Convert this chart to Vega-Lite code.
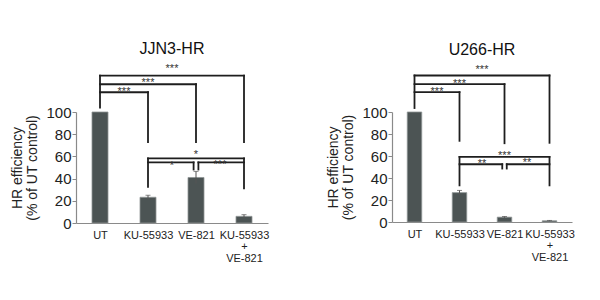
{
  "$schema": "https://vega.github.io/schema/vega-lite/v6.json",
  "padding": {"left": 10, "top": 41, "right": 5, "bottom": 5},
  "config": {
    "view": {"stroke": null},
    "font": "Liberation Sans",
    "title": {"fontSize": 16, "fontWeight": "normal", "color": "#111", "offset": 6},
    "axis": {"grid": false},
    "scale": {"continuousPadding": 0}
  },
  "spacing": 57,
  "datasets": {
    "bars": [
      {"panel": "JJN3-HR", "group": "UT", "pos": 0, "value": 100},
      {"panel": "JJN3-HR", "group": "KU-55933", "pos": 1, "value": 23.2},
      {"panel": "JJN3-HR", "group": "VE-821", "pos": 2, "value": 41},
      {"panel": "JJN3-HR", "group": "KU-55933 + VE-821", "pos": 3, "value": 6.0},
      {"panel": "U266-HR", "group": "UT", "pos": 0, "value": 100},
      {"panel": "U266-HR", "group": "KU-55933", "pos": 1, "value": 26.7},
      {"panel": "U266-HR", "group": "VE-821", "pos": 2, "value": 4.4},
      {"panel": "U266-HR", "group": "KU-55933 + VE-821", "pos": 3, "value": 1.1}
    ],
    "errs": [
      {"panel": "JJN3-HR", "pos": 1, "lo": 21.4, "hi": 25.0},
      {"panel": "JJN3-HR", "pos": 2, "lo": 35.5, "hi": 46.5},
      {"panel": "JJN3-HR", "pos": 3, "lo": 4.5, "hi": 7.5},
      {"panel": "U266-HR", "pos": 1, "lo": 24.7, "hi": 28.7},
      {"panel": "U266-HR", "pos": 2, "lo": 3.8, "hi": 5.0},
      {"panel": "U266-HR", "pos": 3, "lo": 0.8, "hi": 1.4}
    ],
    "hlines": [
      {"panel": "JJN3-HR", "x1": 0, "x2": 3, "y": 132.8},
      {"panel": "JJN3-HR", "x1": 0, "x2": 2, "y": 125.0},
      {"panel": "JJN3-HR", "x1": 0, "x2": 1, "y": 117.8},
      {"panel": "JJN3-HR", "x1": 1, "x2": 3, "y": 58.2},
      {"panel": "JJN3-HR", "x1": 1, "x2": 1.95, "y": 54.6},
      {"panel": "JJN3-HR", "x1": 2.05, "x2": 3, "y": 54.6},
      {"panel": "U266-HR", "x1": 0, "x2": 3, "y": 133.2},
      {"panel": "U266-HR", "x1": 0, "x2": 2, "y": 125.3},
      {"panel": "U266-HR", "x1": 0, "x2": 1, "y": 118.0},
      {"panel": "U266-HR", "x1": 1, "x2": 3, "y": 59.2},
      {"panel": "U266-HR", "x1": 1, "x2": 1.95, "y": 52.5},
      {"panel": "U266-HR", "x1": 2.05, "x2": 3, "y": 52.5}
    ],
    "vlines": [
      {"panel": "JJN3-HR", "x": 0, "y1": 103.9, "y2": 132.8},
      {"panel": "JJN3-HR", "x": 1, "y1": 72.9, "y2": 117.8},
      {"panel": "JJN3-HR", "x": 2, "y1": 72.9, "y2": 125.0},
      {"panel": "JJN3-HR", "x": 3, "y1": 72.9, "y2": 132.8},
      {"panel": "JJN3-HR", "x": 1, "y1": 32.5, "y2": 58.2},
      {"panel": "JJN3-HR", "x": 3, "y1": 31.3, "y2": 58.2},
      {"panel": "JJN3-HR", "x": 1.95, "y1": 48.2, "y2": 54.6},
      {"panel": "JJN3-HR", "x": 2.05, "y1": 48.2, "y2": 54.6},
      {"panel": "U266-HR", "x": 0, "y1": 103.6, "y2": 133.2},
      {"panel": "U266-HR", "x": 1, "y1": 73.8, "y2": 118.0},
      {"panel": "U266-HR", "x": 2, "y1": 71.6, "y2": 125.3},
      {"panel": "U266-HR", "x": 3, "y1": 72.0, "y2": 133.2},
      {"panel": "U266-HR", "x": 1, "y1": 33.3, "y2": 59.2},
      {"panel": "U266-HR", "x": 3, "y1": 33.3, "y2": 59.2},
      {"panel": "U266-HR", "x": 1.95, "y1": 48.6, "y2": 52.5},
      {"panel": "U266-HR", "x": 2.05, "y1": 48.6, "y2": 52.5}
    ],
    "stars": [
      {"panel": "JJN3-HR", "x": 1.5, "y": 141.6, "label": "***"},
      {"panel": "JJN3-HR", "x": 1.0, "y": 128.9, "label": "***"},
      {"panel": "JJN3-HR", "x": 0.5, "y": 121.4, "label": "***"},
      {"panel": "JJN3-HR", "x": 2.0, "y": 64.1, "label": "*"},
      {"panel": "JJN3-HR", "x": 1.5, "y": 54.2, "label": "*"},
      {"panel": "JJN3-HR", "x": 2.5, "y": 55.1, "label": "***"},
      {"panel": "U266-HR", "x": 1.5, "y": 141.4, "label": "***"},
      {"panel": "U266-HR", "x": 1.0, "y": 128.9, "label": "***"},
      {"panel": "U266-HR", "x": 0.5, "y": 121.6, "label": "***"},
      {"panel": "U266-HR", "x": 2.0, "y": 62.8, "label": "***"},
      {"panel": "U266-HR", "x": 1.5, "y": 55.5, "label": "**"},
      {"panel": "U266-HR", "x": 2.5, "y": 56.8, "label": "**"}
    ]
  },
  "hconcat": [
    {
      "width": 192,
      "height": 111,
      "title": "JJN3-HR",
      "layer": [
        {
          "data": {"name": "bars"},
          "transform": [{"filter": "datum.panel == 'JJN3-HR'"}],
          "mark": {"type": "bar", "size": 16, "color": "#4c5454", "stroke": "#8f9696", "strokeWidth": 0.8, "clip": false},
          "encoding": {
            "x": {"field": "pos", "type": "quantitative", "scale": {"domain": [-0.5, 3.5], "nice": false, "zero": false, "padding": 0},
              "axis": {"values": [0, 1, 2, 3], "tickCount": 10, "title": null, "ticks": false, "labelOverlap": false, "labelBound": false, "labelFlush": false, "domainColor": "#8a8a8a", "domainWidth": 1.2, "labelFontSize": 11, "labelColor": "#222", "labelPadding": 6, "labelLineHeight": 11.5, "labelAngle": 0,
                "labelExpr": "datum.value == 0 ? 'UT' : datum.value == 1 ? 'KU-55933' : datum.value == 2 ? 'VE-821' : ['KU-55933', '+', 'VE-821']"}},
            "y": {"field": "value", "type": "quantitative", "scale": {"domain": [0, 100], "nice": false},
              "axis": {"values": [0, 20, 40, 60, 80, 100], "tickCount": 10, "labelOverlap": false, "labelFlush": false, "title": ["HR efficiency", "(% of UT control)"], "titleFontSize": 14, "titleFontWeight": "normal", "titleColor": "#222", "titlePadding": 6, "titleLineHeight": 15, "labelFontSize": 15, "labelColor": "#222", "labelPadding": 1, "tickSize": 4, "tickColor": "#8a8a8a", "domainColor": "#8a8a8a", "domainWidth": 1.2}}
          }
        },
        {
          "data": {"name": "errs"},
          "transform": [{"filter": "datum.panel == 'JJN3-HR'"}],
          "mark": {"type": "rule", "color": "#555", "strokeWidth": 1, "clip": false},
          "encoding": {
            "x": {"field": "pos", "type": "quantitative", "scale": {"domain": [-0.5, 3.5], "nice": false, "zero": false, "padding": 0}},
            "y": {"field": "lo", "type": "quantitative", "scale": {"domain": [0, 100], "nice": false}},
            "y2": {"field": "hi"}
          }
        },
        {
          "data": {"name": "errs"},
          "transform": [{"filter": "datum.panel == 'JJN3-HR'"}],
          "mark": {"type": "tick", "orient": "horizontal", "color": "#555", "size": 5, "thickness": 1, "clip": false},
          "encoding": {
            "x": {"field": "pos", "type": "quantitative", "scale": {"domain": [-0.5, 3.5], "nice": false, "zero": false, "padding": 0}},
            "y": {"field": "hi", "type": "quantitative", "scale": {"domain": [0, 100], "nice": false}}
          }
        },
        {
          "data": {"name": "hlines"},
          "transform": [{"filter": "datum.panel == 'JJN3-HR'"}],
          "mark": {"type": "rule", "color": "#1e1e1e", "strokeWidth": 1.8, "strokeCap": "square", "clip": false},
          "encoding": {
            "x": {"field": "x1", "type": "quantitative", "scale": {"domain": [-0.5, 3.5], "nice": false, "zero": false, "padding": 0}},
            "x2": {"field": "x2"},
            "y": {"field": "y", "type": "quantitative", "scale": {"domain": [0, 100], "nice": false}}
          }
        },
        {
          "data": {"name": "vlines"},
          "transform": [{"filter": "datum.panel == 'JJN3-HR'"}],
          "mark": {"type": "rule", "color": "#1e1e1e", "strokeWidth": 1.8, "strokeCap": "square", "clip": false},
          "encoding": {
            "x": {"field": "x", "type": "quantitative", "scale": {"domain": [-0.5, 3.5], "nice": false, "zero": false, "padding": 0}},
            "y": {"field": "y1", "type": "quantitative", "scale": {"domain": [0, 100], "nice": false}},
            "y2": {"field": "y2"}
          }
        },
        {
          "data": {"name": "stars"},
          "transform": [{"filter": "datum.panel == 'JJN3-HR'"}],
          "mark": {"type": "text", "fontSize": 11, "color": "#333", "baseline": "alphabetic", "dy": 6.5, "clip": false},
          "encoding": {
            "x": {"field": "x", "type": "quantitative", "scale": {"domain": [-0.5, 3.5], "nice": false, "zero": false, "padding": 0}},
            "y": {"field": "y", "type": "quantitative", "scale": {"domain": [0, 100], "nice": false}},
            "text": {"field": "label"}
          }
        }
      ]
    },
    {
      "width": 180,
      "height": 110,
      "title": "U266-HR",
      "layer": [
        {
          "data": {"name": "bars"},
          "transform": [{"filter": "datum.panel == 'U266-HR'"}],
          "mark": {"type": "bar", "size": 14.5, "color": "#4c5454", "stroke": "#8f9696", "strokeWidth": 0.8, "clip": false},
          "encoding": {
            "x": {"field": "pos", "type": "quantitative", "scale": {"domain": [-0.5, 3.5], "nice": false, "zero": false, "padding": 0},
              "axis": {"values": [0, 1, 2, 3], "tickCount": 10, "title": null, "ticks": false, "labelOverlap": false, "labelBound": false, "labelFlush": false, "domainColor": "#8a8a8a", "domainWidth": 1.2, "labelFontSize": 11, "labelColor": "#222", "labelPadding": 6, "labelLineHeight": 11.5, "labelAngle": 0,
                "labelExpr": "datum.value == 0 ? 'UT' : datum.value == 1 ? 'KU-55933' : datum.value == 2 ? 'VE-821' : ['KU-55933', '+', 'VE-821']"}},
            "y": {"field": "value", "type": "quantitative", "scale": {"domain": [0, 100], "nice": false},
              "axis": {"values": [0, 20, 40, 60, 80, 100], "tickCount": 10, "labelOverlap": false, "labelFlush": false, "title": ["HR efficiency", "(% of UT control)"], "titleFontSize": 14, "titleFontWeight": "normal", "titleColor": "#222", "titlePadding": 6, "titleLineHeight": 15, "labelFontSize": 15, "labelColor": "#222", "labelPadding": 1, "tickSize": 4, "tickColor": "#8a8a8a", "domainColor": "#8a8a8a", "domainWidth": 1.2}}
          }
        },
        {
          "data": {"name": "errs"},
          "transform": [{"filter": "datum.panel == 'U266-HR'"}],
          "mark": {"type": "rule", "color": "#555", "strokeWidth": 1, "clip": false},
          "encoding": {
            "x": {"field": "pos", "type": "quantitative", "scale": {"domain": [-0.5, 3.5], "nice": false, "zero": false, "padding": 0}},
            "y": {"field": "lo", "type": "quantitative", "scale": {"domain": [0, 100], "nice": false}},
            "y2": {"field": "hi"}
          }
        },
        {
          "data": {"name": "errs"},
          "transform": [{"filter": "datum.panel == 'U266-HR'"}],
          "mark": {"type": "tick", "orient": "horizontal", "color": "#555", "size": 5, "thickness": 1, "clip": false},
          "encoding": {
            "x": {"field": "pos", "type": "quantitative", "scale": {"domain": [-0.5, 3.5], "nice": false, "zero": false, "padding": 0}},
            "y": {"field": "hi", "type": "quantitative", "scale": {"domain": [0, 100], "nice": false}}
          }
        },
        {
          "data": {"name": "hlines"},
          "transform": [{"filter": "datum.panel == 'U266-HR'"}],
          "mark": {"type": "rule", "color": "#1e1e1e", "strokeWidth": 1.8, "strokeCap": "square", "clip": false},
          "encoding": {
            "x": {"field": "x1", "type": "quantitative", "scale": {"domain": [-0.5, 3.5], "nice": false, "zero": false, "padding": 0}},
            "x2": {"field": "x2"},
            "y": {"field": "y", "type": "quantitative", "scale": {"domain": [0, 100], "nice": false}}
          }
        },
        {
          "data": {"name": "vlines"},
          "transform": [{"filter": "datum.panel == 'U266-HR'"}],
          "mark": {"type": "rule", "color": "#1e1e1e", "strokeWidth": 1.8, "strokeCap": "square", "clip": false},
          "encoding": {
            "x": {"field": "x", "type": "quantitative", "scale": {"domain": [-0.5, 3.5], "nice": false, "zero": false, "padding": 0}},
            "y": {"field": "y1", "type": "quantitative", "scale": {"domain": [0, 100], "nice": false}},
            "y2": {"field": "y2"}
          }
        },
        {
          "data": {"name": "stars"},
          "transform": [{"filter": "datum.panel == 'U266-HR'"}],
          "mark": {"type": "text", "fontSize": 11, "color": "#333", "baseline": "alphabetic", "dy": 6.5, "clip": false},
          "encoding": {
            "x": {"field": "x", "type": "quantitative", "scale": {"domain": [-0.5, 3.5], "nice": false, "zero": false, "padding": 0}},
            "y": {"field": "y", "type": "quantitative", "scale": {"domain": [0, 100], "nice": false}},
            "text": {"field": "label"}
          }
        }
      ]
    }
  ]
}
